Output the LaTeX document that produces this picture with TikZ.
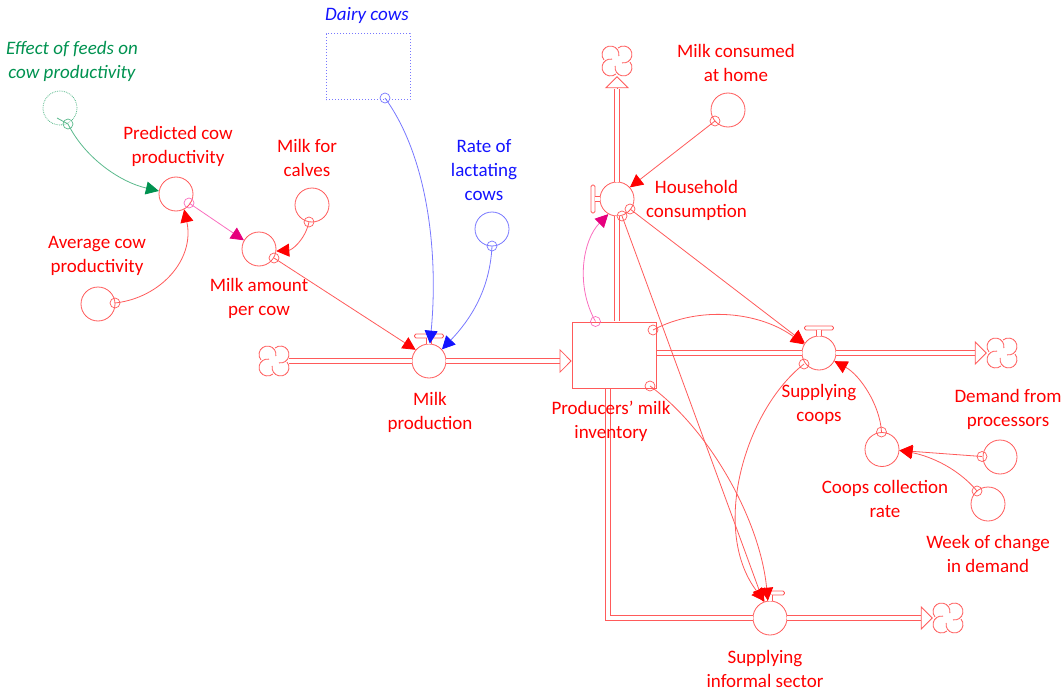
\documentclass[tikz,border=0pt]{standalone}
\usepackage{fontspec}
\setmainfont{Carlito}
\usetikzlibrary{arrows.meta,shapes.geometric}
\definecolor{sdred}{RGB}{255,0,0}
\definecolor{sdline}{RGB}{255,90,90}
\definecolor{sdgreen}{RGB}{0,146,80}
\definecolor{sdgreenl}{RGB}{90,185,140}
\definecolor{sdblue}{RGB}{20,20,255}
\definecolor{sdbluel}{RGB}{120,120,255}
\definecolor{sdmag}{RGB}{230,0,125}
\definecolor{sdmagl}{RGB}{250,110,190}
\tikzset{
  lab/.style={align=center,font=\fontsize{19}{24}\selectfont,text=sdred,inner sep=0pt},
  conv/.style={circle,draw=sdline,line width=.8pt,minimum size=34pt,inner sep=0pt},
  pin/.style={circle,draw=sdline,line width=.7pt,minimum size=10pt,inner sep=0pt},
  cloudspot/.style={circle,minimum size=30pt,inner sep=0pt},
  handlebar/.style={rectangle,rounded corners=1.5pt,draw=sdline,line width=.8pt,fill=white,inner sep=0pt},
  pipe/.style={draw=sdline,line width=.8pt,double=white,double distance=4.4pt},
  stem/.style={draw=sdline,line width=.8pt,double=white,double distance=4pt},
  pipehead/.style={draw=sdline,line width=.8pt,-{Triangle[length=12pt,width=24pt,fill=white]}},
  link/.style={draw=sdline,line width=.8pt,-{Triangle[length=13pt,width=13pt,color=sdred,fill=sdred]}},
  linkgreen/.style={draw=sdgreenl,line width=.8pt,-{Triangle[length=13pt,width=13pt,color=sdgreen,fill=sdgreen]}},
  linkblue/.style={draw=sdbluel,line width=.8pt,-{Triangle[length=13pt,width=13pt,color=sdblue,fill=sdblue]}},
  linkmag/.style={draw=sdmagl,line width=.8pt,-{Triangle[length=13pt,width=13pt,color=sdmag,fill=sdmag]}},
}
\newcommand{\puff}[1]{%
  \foreach \r in {0,90,180,270}{
    \draw[sdline,line width=.8pt,shift={(#1)},rotate=\r] (-5,-1.87) arc[start angle=-80,end angle=-310,radius=8.5];
  }}
\begin{document}
\begin{tikzpicture}[x=1pt,y=-1pt]
\useasboundingbox (0,0) rectangle (1061,693);
% stocks
\node[rectangle,draw=sdline,line width=.8pt,minimum width=84pt,minimum height=66pt,inner sep=0pt] (stock) at (614,355) {};
\node[rectangle,draw=sdbluel,dotted,line width=1pt,minimum width=84pt,minimum height=66pt,inner sep=0pt] (dairy) at (368,67) {};
% converters
\node[conv,draw=sdgreenl,densely dotted] (effect) at (60,108) {};
\node[conv] (pred) at (176,194) {};
\node[conv] (avg) at (98,304) {};
\node[conv] (calves) at (312,205) {};
\node[conv] (amount) at (259,249) {};
\node[conv,draw=sdbluel] (rate) at (492,229) {};
\node[conv] (home) at (728,110) {};
\node[conv] (coll) at (882,449.5) {};
\node[conv] (demand) at (1000,457) {};
\node[conv] (week) at (988,504) {};
% valves
\node[conv] (prod) at (429,361) {};
\node[conv] (house) at (617,199) {};
\node[conv] (coops) at (819,353) {};
\node[conv] (informal) at (770,618) {};
% clouds
\node[cloudspot] (cloudL) at (274,361) {};
\node[cloudspot] (cloudT) at (617,61) {};
\node[cloudspot] (cloudR) at (1002,353) {};
\node[cloudspot] (cloudB) at (948,618) {};
\puff{cloudL}\puff{cloudT}\puff{cloudR}\puff{cloudB}
% valve handles
\node[handlebar,minimum width=29pt,minimum height=4pt] (prodH) at (429,336) {};
\node[handlebar,minimum width=29pt,minimum height=4pt] (coopsH) at (819,328) {};
\node[handlebar,minimum width=29pt,minimum height=4pt] (infH) at (770,593) {};
\node[handlebar,minimum width=4pt,minimum height=28pt] (houseH) at (593,199) {};
\draw[stem] (prodH) -- (prod);
\draw[stem] (coopsH) -- (coops);
\draw[stem] (infH) -- (informal);
\draw[stem] (houseH) -- (house);
% flow pipes
\coordinate (prodB) at (560,361);
\coordinate (homeB) at (617,89);
\coordinate (coopsB) at (975,353);
\coordinate (infB) at (922,618);
\coordinate (stockS) at (608,389);
\coordinate (stockE) at (657,353);
\coordinate (stockN) at (617,321);
\draw[pipe] (cloudL) -- (prod);
\draw[pipe] (prod) -- (prodB);
\draw[pipehead] (prodB) -- (stock.west |- prod);
\draw[pipe] (stockN) -- (house);
\draw[pipe] (house) -- (homeB);
\draw[pipehead] (homeB) -- (cloudT);
\draw[pipe] (stockE) -- (coops);
\draw[pipe] (coops) -- (coopsB);
\draw[pipehead] (coopsB) -- (cloudR);
\draw[pipe] (stockS) |- (informal);
\draw[pipe] (informal) -- (infB);
\draw[pipehead] (infB) -- (cloudB);
% pins
\node[pin,draw=sdgreenl] (pEffect) at (68,124) {};
\coordinate (effectTick) at (57,118);
\node[pin,draw=sdmagl] (pPred) at (189,203) {};
\node[pin] (pAvg) at (115,303) {};
\node[pin] (pCalves) at (309,222) {};
\node[pin] (pAmount) at (274,258) {};
\node[pin,draw=sdbluel] (pDairy) at (385,98) {};
\node[pin,draw=sdbluel] (pRate) at (492,246) {};
\node[pin,draw=sdmagl] (pStockUp) at (595.5,321.5) {};
\node[pin] (pStockR) at (653,330) {};
\node[pin] (pStockD) at (650,386) {};
\node[pin] (pHouseA) at (622,216) {};
\node[pin] (pHouseB) at (630,209) {};
\node[pin] (pHome) at (715,121) {};
\node[pin] (pCoops) at (804,364) {};
\node[pin] (pColl) at (881.5,432) {};
\node[pin] (pDemand) at (982,456.5) {};
\node[pin] (pWeek) at (977,491) {};
% links
\draw[draw=sdgreenl,line width=.8pt] (effectTick) -- (pEffect.center);
\draw[linkgreen] (pEffect.center) .. controls (85,158) and (120,182) .. (pred.170);
\draw[link] (pAvg.center) .. controls (160,298) and (195,260) .. (pred.-62);
\draw[linkmag] (pPred.center) -- (amount.150);
\draw[link] (pCalves.center) .. controls (305,240) and (292,250) .. (amount.-7);
\draw[link] (pAmount.center) -- (prod.140);
\draw[linkblue] (pDairy.center) .. controls (430,160) and (438,260) .. (prod.87);
\draw[linkblue] (pRate.center) .. controls (490,290) and (470,320) .. (prod.42);
\draw[linkmag] (pStockUp.center) .. controls (575,285) and (583,240) .. (house.-120);
\draw[link] (pHome.center) -- (house.42);
\draw[link] (pHouseB.center) -- (coops.145);
\draw[link] (pStockR.center) .. controls (700,305) and (760,312) .. (coops.150);
\draw[link] (pStockD.center) .. controls (710,430) and (760,520) .. (informal.97);
\draw[link] (pHouseA.center) -- (informal.112);
\draw[link] (pCoops.center) .. controls (745,410) and (710,530) .. (informal.108);
\draw[link] (pColl.center) .. controls (880,405) and (860,375) .. (coops.-28);
\draw[link] (pDemand.center) -- (coll.-3);
\draw[link] (pWeek.center) .. controls (955,465) and (925,455) .. (coll.-3);
% labels
\node[lab,text=sdgreen,font=\fontsize{19}{24}\selectfont\itshape] (tEffect) at (72,61) {Effect of feeds on\\cow productivity};
\node[lab,text=sdblue,font=\fontsize{19}{24}\selectfont\itshape] (tDairy) at (367,15) {Dairy cows};
\node[lab] (tPred) at (178,146) {Predicted cow\\productivity};
\node[lab] (tCalves) at (307,157.5) {Milk for\\calves};
\node[lab] (tAvg) at (97,256) {Average cow\\productivity};
\node[lab] (tAmount) at (259,298) {Milk amount\\per cow};
\node[lab,text=sdblue] (tRate) at (484,170) {Rate of\\lactating\\cows};
\node[lab] (tProd) at (430,412) {Milk\\production};
\node[lab] (tStock) at (611,421) {Producers\symbol{39} milk\\inventory};
\node[lab] (tHome) at (736,63) {Milk consumed\\at home};
\node[lab] (tHouse) at (696.5,200.5) {Household\\consumption};
\node[lab] (tCoops) at (819,404) {Supplying\\coops};
\node[lab] (tDemand) at (1008,409.5) {Demand from\\processors};
\node[lab] (tColl) at (885,499) {Coops collection\\rate};
\node[lab] (tWeek) at (988,554) {Week of change\\in demand};
\node[lab] (tInf) at (765,669) {Supplying\\informal sector};
\end{tikzpicture}
\end{document}
